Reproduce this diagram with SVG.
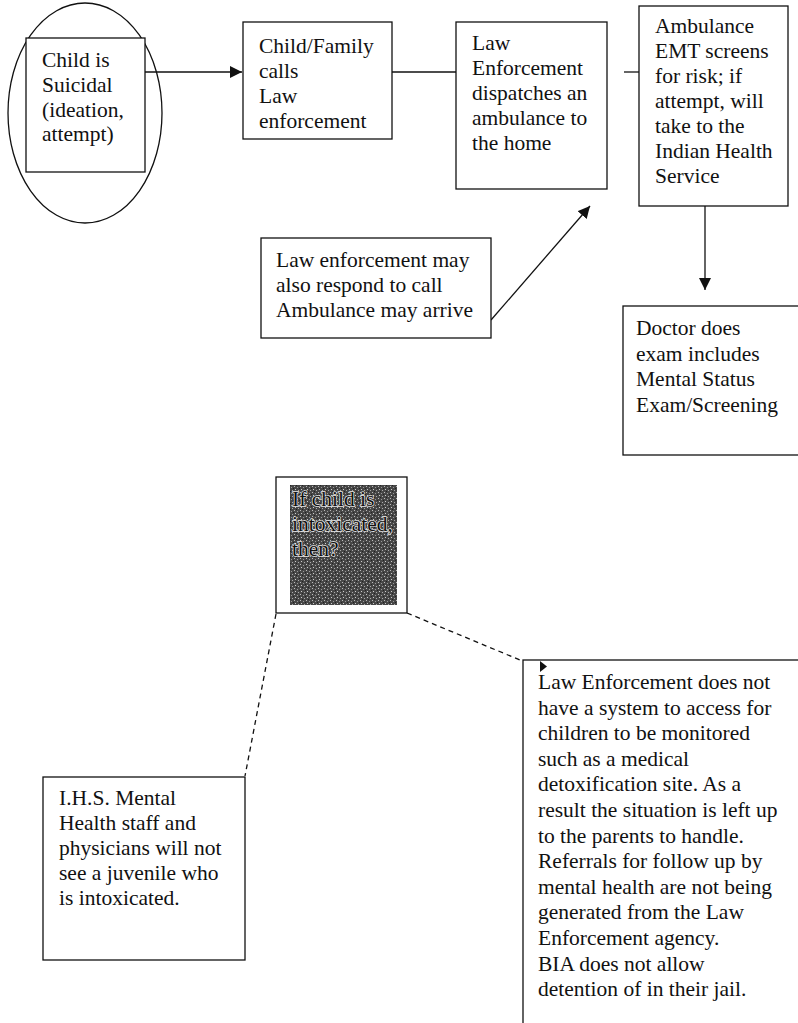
<svg xmlns="http://www.w3.org/2000/svg" width="798" height="1023" viewBox="0 0 798 1023">
<style>
.box{fill:#fff;stroke:#111;stroke-width:1.3}
.t{font-family:"Liberation Serif","Times New Roman",serif;font-size:21.5px;fill:#111}
.c{fill:none;stroke:#111;stroke-width:1.3}
.d{fill:none;stroke:#111;stroke-width:1.3;stroke-dasharray:5 4}
.dark{font-family:"Liberation Serif","Times New Roman",serif;font-size:21.5px;fill:#111;stroke:#e8e8e8;stroke-width:1.4;paint-order:stroke}
</style>
<defs>
<marker id="ah" viewBox="0 0 10 10" refX="10" refY="5" markerWidth="12" markerHeight="12" markerUnits="userSpaceOnUse" orient="auto">
<path d="M0,0 L10,5 L0,10 z" fill="#111"/>
</marker>
<pattern id="noise" width="6" height="6" patternUnits="userSpaceOnUse">
<rect width="6" height="6" fill="#474747"/>
<rect x="0" y="0" width="1" height="1" fill="#bbb"/>
<rect x="3" y="1" width="1" height="1" fill="#999"/>
<rect x="1" y="3" width="1" height="1" fill="#ccc"/>
<rect x="4" y="4" width="1" height="1" fill="#aaa"/>
<rect x="5" y="2" width="1" height="1" fill="#222"/>
<rect x="2" y="5" width="1" height="1" fill="#222"/>
</pattern>
</defs>

<g id="connectors">
<line class="c" x1="145" y1="72" x2="242" y2="72" marker-end="url(#ah)"/>
<line class="c" x1="392" y1="72" x2="456" y2="72"/>
<line class="c" x1="624" y1="72" x2="639" y2="72"/>
<line class="c" x1="705" y1="206" x2="705" y2="290" marker-end="url(#ah)"/>
<line class="c" x1="491" y1="320" x2="590" y2="206" marker-end="url(#ah)"/>
<line class="d" x1="276" y1="614" x2="245" y2="776"/>
<line class="d" x1="407" y1="613" x2="520" y2="660"/>
</g>

<g id="suicidal">
<ellipse cx="85" cy="113" rx="77" ry="110" fill="none" stroke="#111" stroke-width="1.3"/>
<rect class="box" x="26" y="38" width="119" height="134"/>
<text class="t"><tspan x="42" y="67">Child is</tspan><tspan x="42" y="92">Suicidal</tspan><tspan x="42" y="116.5">(ideation,</tspan><tspan x="42" y="141">attempt)</tspan></text>
</g>

<g id="calls">
<rect class="box" x="243" y="22" width="149" height="117"/>
<text class="t"><tspan x="259" y="53">Child/Family</tspan><tspan x="259" y="78">calls</tspan><tspan x="259" y="103">Law</tspan><tspan x="259" y="128">enforcement</tspan></text>
</g>

<g id="dispatch">
<rect class="box" x="456" y="22" width="151" height="167"/>
<text class="t"><tspan x="472" y="50">Law</tspan><tspan x="472" y="75">Enforcement</tspan><tspan x="472" y="100">dispatches an</tspan><tspan x="472" y="125">ambulance to</tspan><tspan x="472" y="150">the home</tspan></text>
</g>

<g id="ambulance">
<rect class="box" x="639" y="6" width="149" height="200"/>
<text class="t"><tspan x="655" y="33">Ambulance</tspan><tspan x="655" y="58">EMT screens</tspan><tspan x="655" y="83">for risk; if</tspan><tspan x="655" y="108">attempt, will</tspan><tspan x="655" y="133">take to the</tspan><tspan x="655" y="158">Indian Health</tspan><tspan x="655" y="183">Service</tspan></text>
</g>

<g id="respond">
<rect class="box" x="261" y="238" width="230" height="100"/>
<text class="t"><tspan x="276" y="267">Law enforcement may</tspan><tspan x="276" y="292">also respond to call</tspan><tspan x="276" y="317">Ambulance may arrive</tspan></text>
</g>

<g id="doctor">
<rect class="box" x="623" y="306" width="185" height="149"/>
<text class="t"><tspan x="636" y="335">Doctor does</tspan><tspan x="636" y="360.5">exam includes</tspan><tspan x="636" y="386">Mental Status</tspan><tspan x="636" y="411.5">Exam/Screening</tspan></text>
</g>

<g id="intoxicated">
<rect class="box" x="276" y="477" width="131" height="136"/>
<rect x="290" y="485" width="107" height="120" fill="url(#noise)"/>
<text class="dark"><tspan x="292" y="506">If child is</tspan><tspan x="292" y="531">intoxicated,</tspan><tspan x="292" y="556">then?</tspan></text>
</g>

<g id="ihs">
<rect class="box" x="43" y="777" width="202" height="183"/>
<text class="t"><tspan x="59" y="805">I.H.S. Mental</tspan><tspan x="59" y="830">Health staff and</tspan><tspan x="59" y="855">physicians will not</tspan><tspan x="59" y="880">see a juvenile who</tspan><tspan x="59" y="905">is intoxicated.</tspan></text>
</g>

<g id="lawenf">
<rect class="box" x="523" y="660" width="290" height="380"/>
<polygon points="540,661 547,666.5 540,672" fill="#111"/>
<text class="t"><tspan x="538" y="689">Law Enforcement does not</tspan><tspan x="538" y="714.6">have a system to access for</tspan><tspan x="538" y="740.2">children to be monitored</tspan><tspan x="538" y="765.8">such as a medical</tspan><tspan x="538" y="791.4">detoxification site. As a</tspan><tspan x="538" y="817">result the situation is left up</tspan><tspan x="538" y="842.6">to the parents to handle.</tspan><tspan x="538" y="868.2">Referrals for follow up by</tspan><tspan x="538" y="893.8">mental health are not being</tspan><tspan x="538" y="919.4">generated from the Law</tspan><tspan x="538" y="945">Enforcement agency.</tspan><tspan x="538" y="970.6">BIA does not allow</tspan><tspan x="538" y="996.2">detention of in their jail.</tspan></text>
</g>
</svg>
